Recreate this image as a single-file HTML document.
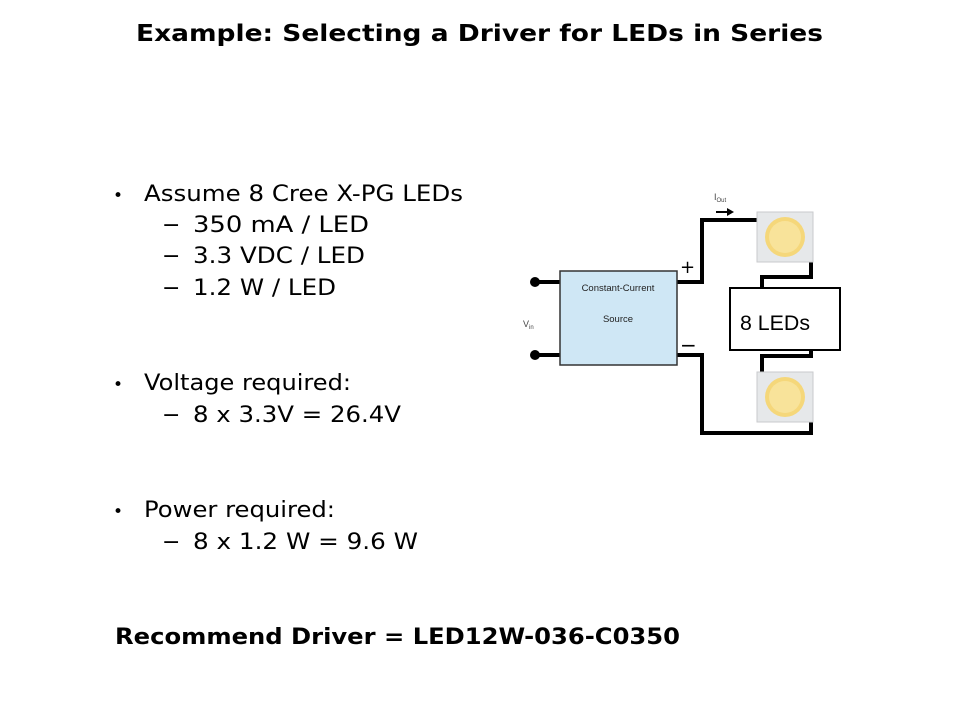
<!DOCTYPE html>
<html><head><meta charset="utf-8"><style>
html,body{margin:0;padding:0;background:#fff;}
svg{display:block;}
</style></head><body>
<svg width="960" height="720" viewBox="0 0 960 720" xmlns="http://www.w3.org/2000/svg">
<rect width="960" height="720" fill="#fff"/>
<g font-family="DejaVu Sans, Verdana, sans-serif" fill="#000">
<text x="136" y="41" font-size="23" font-weight="bold" textLength="687" lengthAdjust="spacingAndGlyphs">Example: Selecting a Driver for LEDs in Series</text>
<g font-size="22">
<text x="113" y="201" font-size="17">•</text>
<text x="144" y="201" textLength="319" lengthAdjust="spacingAndGlyphs">Assume 8 Cree X-PG LEDs</text>
<text x="162" y="232">−</text><text x="193" y="232" textLength="176" lengthAdjust="spacingAndGlyphs">350 mA  / LED</text>
<text x="162" y="263">−</text><text x="193" y="263" textLength="172" lengthAdjust="spacingAndGlyphs">3.3 VDC / LED</text>
<text x="162" y="295">−</text><text x="193" y="295" textLength="143" lengthAdjust="spacingAndGlyphs">1.2 W / LED</text>
<text x="113" y="390" font-size="17">•</text>
<text x="144" y="390" textLength="207" lengthAdjust="spacingAndGlyphs">Voltage required:</text>
<text x="162" y="422">−</text><text x="193" y="422" textLength="208" lengthAdjust="spacingAndGlyphs">8 x 3.3V = 26.4V</text>
<text x="113" y="517" font-size="17">•</text>
<text x="144" y="517" textLength="191" lengthAdjust="spacingAndGlyphs">Power required:</text>
<text x="162" y="549">−</text><text x="193" y="549" textLength="225" lengthAdjust="spacingAndGlyphs">8 x 1.2 W = 9.6 W</text>
</g>
<text x="115" y="644" font-size="22" font-weight="bold" textLength="565" lengthAdjust="spacingAndGlyphs">Recommend Driver = LED12W-036-C0350</text>
</g>
<g stroke="#000" stroke-width="4" fill="none">
<line x1="535" y1="282" x2="560" y2="282"/>
<line x1="535" y1="355" x2="560" y2="355"/>
<polyline points="677,282 702,282 702,220 760,220"/>
<polyline points="677,355 702,355 702,433 811,433 811,420"/>
<polyline points="811,255 811,277 762,277 762,290"/>
<polyline points="811,348 811,356 762,356 762,374"/>
</g>
<circle cx="535" cy="282" r="5" fill="#000"/>
<circle cx="535" cy="355" r="5" fill="#000"/>
<rect x="560" y="271" width="117" height="94" fill="#cfe7f5" stroke="#333" stroke-width="1.5"/>
<g font-family="Liberation Sans, Arial, sans-serif" font-size="9.5" fill="#222" text-anchor="middle">
<text x="618" y="291">Constant-Current</text>
<text x="618" y="322">Source</text>
</g>
<text x="523" y="327" font-family="Liberation Sans, sans-serif" font-size="9" fill="#444">V<tspan font-size="6" dy="2">in</tspan></text>
<text x="714" y="200" font-family="Liberation Sans, sans-serif" font-size="9" fill="#444">I<tspan font-size="6" dy="2">Out</tspan></text>
<polyline points="716,212 730,212" stroke="#000" stroke-width="2"/>
<polygon points="727,208 734,212 727,216" fill="#000"/>
<text x="680" y="273" font-family="DejaVu Sans, sans-serif" font-size="18">+</text>
<text x="680" y="352" font-family="DejaVu Sans, sans-serif" font-size="20">−</text>
<g>
<rect x="757" y="212" width="56" height="50" fill="#e6e8ea" stroke="#c8cacc"/>
<circle cx="785" cy="237" r="20" fill="#f5d77a"/>
<circle cx="785" cy="237" r="16" fill="#f8e39a"/>
<rect x="757" y="372" width="56" height="50" fill="#e6e8ea" stroke="#c8cacc"/>
<circle cx="785" cy="397" r="20" fill="#f5d77a"/>
<circle cx="785" cy="397" r="16" fill="#f8e39a"/>
</g>
<rect x="730" y="288" width="110" height="62" fill="#fff" stroke="#000" stroke-width="2"/>
<text x="740" y="330" font-family="Liberation Sans, sans-serif" font-size="21" textLength="70" lengthAdjust="spacingAndGlyphs">8 LEDs</text>
</svg>
</body></html>
